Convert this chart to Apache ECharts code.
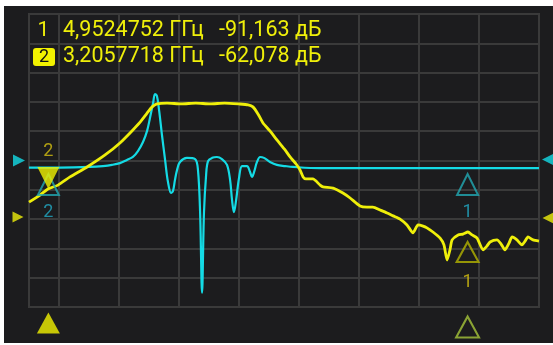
<!DOCTYPE html>
<html><head><meta charset="utf-8">
<script src="https://cdn.jsdelivr.net/npm/echarts@6/dist/echarts.min.js"></script>
<style>html,body{margin:0;padding:0;background:#fff;}#c{width:553px;height:345px;}</style>
</head><body><div id="c"></div>
<script>
// ---- data ----
const yellowFreq = [3.125,3.171,3.204,3.246,3.296,3.367,3.442,3.504,3.554,3.588,3.617,3.638,3.658,3.70,3.76,3.82,3.88,3.94,4.00,4.038,4.058,4.079,4.100,4.129,4.158,4.192,4.213,4.238,4.254,4.267,4.279,4.308,4.338,4.350,4.392,4.433,4.463,4.504,4.533,4.558,4.588,4.617,4.642,4.671,4.700,4.725,4.746,4.767,4.783,4.808,4.838,4.854,4.867,4.879,4.888,4.913,4.933,4.954,4.971,4.992,5.017,5.033,5.046,5.075,5.092,5.108,5.125,5.138,5.158,5.179,5.192,5.204,5.225,5.250];
const yellowVal  = [-64.2,-61.8,-59.7,-58.4,-55.6,-52.2,-48.1,-44.0,-39.9,-36.9,-33.8,-31.7,-30.7,-30.4,-30.7,-30.4,-30.7,-30.4,-30.7,-31.0,-31.7,-34.1,-37.2,-39.9,-43.0,-46.4,-48.8,-51.2,-53.2,-55.6,-56.3,-56.3,-58.4,-59.0,-59.4,-61.1,-62.8,-65.5,-65.9,-65.9,-66.9,-67.9,-68.9,-70.0,-72.0,-74.7,-72.0,-72.4,-73.0,-74.4,-76.5,-78.8,-84.0,-80.5,-77.1,-75.4,-75.1,-74.4,-75.4,-76.5,-80.5,-79.2,-77.8,-77.1,-78.5,-80.5,-78.2,-76.1,-77.1,-78.8,-77.5,-76.1,-77.1,-77.5];
const cyanFreq = [3.125,3.254,3.379,3.433,3.471,3.504,3.533,3.558,3.579,3.600,3.617,3.629,3.642,3.650,3.658,3.667,3.679,3.692,3.704,3.717,3.725,3.733,3.742,3.754,3.783,3.817,3.829,3.838,3.846,3.854,3.863,3.871,3.888,3.908,3.929,3.950,3.963,3.971,3.979,3.988,4.000,4.013,4.033,4.046,4.054,4.063,4.075,4.088,4.104,4.129,4.158,4.192,4.225,4.338,4.671,5.250];
const cyanVal  = [-52.4,-52.4,-52.2,-51.9,-51.5,-50.9,-49.8,-48.8,-46.8,-43.7,-39.9,-35.5,-30.4,-27.3,-28.0,-32.8,-41.3,-49.8,-57.3,-61.1,-60.4,-56.7,-53.2,-50.5,-49.1,-49.5,-53.2,-67.9,-95.2,-67.9,-54.9,-50.2,-49.1,-48.8,-49.5,-51.5,-56.7,-63.5,-67.6,-63.5,-56.0,-51.9,-51.9,-53.9,-55.6,-53.9,-50.5,-48.8,-49.1,-50.5,-51.5,-51.9,-52.2,-52.6,-52.6,-52.6];
const markerNames = ['1','2'];
const markerFreqs = [4.9524752, 3.2057718];
const markerValues = [-91.163, -62.078];
const markerYellowAt = [-74.4, -59.7];   // trace position of marker on yellow trace
const markerCyanAt   = [-52.4, -52.4];   // trace position of marker on cyan trace
const refLevels = { cyan: -50, yellow: -70 };

const Y = '#efef0a', C = '#14dbe5', GRID = '#3a3a3a';
const FONT = '"Roboto", "Noto Sans", sans-serif';
const xMin = 3.125, xMax = 5.25;

const pairs = (a, b) => a.map((v, i) => [v, b[i]]);
const fmt = (v, d) => v.toFixed(d).replace('.', ',');

const chart = echarts.init(document.getElementById('c'), null, {renderer: 'canvas'});

const headerTexts = [];
markerNames.forEach((n, i) => {
  const yc = 30.5 + i * 26.5;
  if (i === 1) {
    headerTexts.push({type: 'rect', shape: {x: 33, y: yc - 9, width: 22, height: 18, r: 3}, style: {fill: '#f2f200'}, z: 10});
    headerTexts.push({type: 'text', x: 44, y: yc + 0.5, style: {text: n, fill: '#111', font: '18px ' + FONT, align: 'center', verticalAlign: 'middle'}, z: 11});
  } else {
    headerTexts.push({type: 'text', x: 43.5, y: yc, style: {text: n, fill: Y, font: '21px ' + FONT, align: 'center', verticalAlign: 'middle'}, z: 11});
  }
  headerTexts.push({type: 'text', x: 63, y: yc, style: {text: fmt(markerFreqs[i], 7) + ' ГГц', fill: Y, font: '21.5px ' + FONT, verticalAlign: 'middle'}, z: 11});
  headerTexts.push({type: 'text', x: 219, y: yc, style: {text: fmt(markerValues[i], 3) + ' дБ', fill: Y, font: '21.5px ' + FONT, verticalAlign: 'middle'}, z: 11});
});

const tri = (data, opts) => Object.assign({
  type: 'scatter', xAxisIndex: 0, yAxisIndex: 0, clip: false, silent: true, symbol: 'triangle', data: data, z: 6
}, opts);
const lbl = (data, color, dy) => ({
  type: 'scatter', clip: false, silent: true, symbolSize: 1, itemStyle: {color: 'transparent'}, z: 7,
  data: data,
  label: {show: true, position: 'inside', offset: [0, dy], formatter: p => p.data[2], color: color, fontFamily: FONT, fontSize: 18}
});

chart.setOption({
  backgroundColor: '#1c1c1e',
  animation: false,
  grid: {left: 29, top: 14, right: 14, bottom: 38, show: true, borderColor: GRID, borderWidth: 2, backgroundColor: 'transparent'},
  xAxis: [
    {type: 'value', min: xMin, max: xMax, axisLine: {show: false}, axisTick: {show: false}, axisLabel: {show: false}, splitLine: {show: false}},
    {type: 'value', min: 0, max: 8.5, interval: 1, inverse: true, position: 'top', axisLine: {show: false}, axisTick: {show: false}, axisLabel: {show: false}, splitLine: {show: true, lineStyle: {color: GRID, width: 2}}}
  ],
  yAxis: {type: 'value', min: -100, max: 0, interval: 10, axisLine: {show: false}, axisTick: {show: false}, axisLabel: {show: false}, splitLine: {show: true, lineStyle: {color: GRID, width: 2}}},
  graphic: [
    {type: 'rect', shape: {x: 0, y: 0, width: 553, height: 6}, style: {fill: '#fff'}, z: 100},
    {type: 'rect', shape: {x: 0, y: 0, width: 4, height: 345}, style: {fill: '#fff'}, z: 100},
    {type: 'rect', shape: {x: 0, y: 343, width: 553, height: 2}, style: {fill: '#fff'}, z: 100}
  ].concat(headerTexts),
  series: [
    {type: 'line', data: pairs(cyanFreq, cyanVal), showSymbol: false, smooth: 0.35, lineStyle: {color: C, width: 2.2}, z: 3, silent: true},
    {type: 'line', data: pairs(yellowFreq, yellowVal), showSymbol: false, smooth: 0.2, lineStyle: {color: Y, width: 2.8}, z: 4, silent: true},
    // reference level arrows
    tri([[xMin, refLevels.cyan]], {symbolSize: [12, 12], symbolRotate: -90, symbolOffset: [-10, 0], itemStyle: {color: C}}),
    tri([[xMax, refLevels.cyan]], {symbolSize: [12, 12], symbolRotate: 90, symbolOffset: [9, -1], itemStyle: {color: C}}),
    tri([[xMin, refLevels.yellow]], {symbolSize: [11, 11], symbolRotate: -90, symbolOffset: [-11, -2], itemStyle: {color: Y}}),
    tri([[xMax, refLevels.yellow]], {symbolSize: [11, 11], symbolRotate: 90, symbolOffset: [9, -1], itemStyle: {color: Y}}),
    // markers on cyan trace (outline deltas)
    tri(markerFreqs.map((f, i) => [f, markerCyanAt[i]]), {symbolSize: [21, 21], symbolOffset: [0, 17], itemStyle: {color: 'transparent', borderColor: '#22aab4', borderWidth: 2}}),
    lbl(markerFreqs.map((f, i) => [f, markerCyanAt[i], markerNames[i]]), '#22aac4', 45),
    // marker 1 on yellow trace (outline delta), marker 2 active (filled down arrow)
    tri([[markerFreqs[0], markerYellowAt[0]]], {symbolSize: [22, 20], symbolOffset: [0, 20], itemStyle: {color: 'transparent', borderColor: '#b4b400', borderWidth: 2}}),
    lbl([[markerFreqs[0], markerYellowAt[0], markerNames[0]]], '#d6c010', 51),
    tri([[markerFreqs[1], markerYellowAt[1]]], {symbolSize: [22, 22], symbolRotate: 180, symbolOffset: [0, -11], itemStyle: {color: '#f2f200'}, z: 8}),
    lbl([[markerFreqs[1], markerYellowAt[1], markerNames[1]]], '#d6c010', -37),
    // bottom stimulus markers
    tri([[markerFreqs[1], -100]], {symbolSize: [23, 21], symbolOffset: [0, 16], itemStyle: {color: '#f2f200'}}),
    tri([[markerFreqs[0], -100]], {symbolSize: [23, 21], symbolOffset: [0, 20], itemStyle: {color: 'transparent', borderColor: '#a6c63a', borderWidth: 2}})
  ]
});
</script></body></html>
